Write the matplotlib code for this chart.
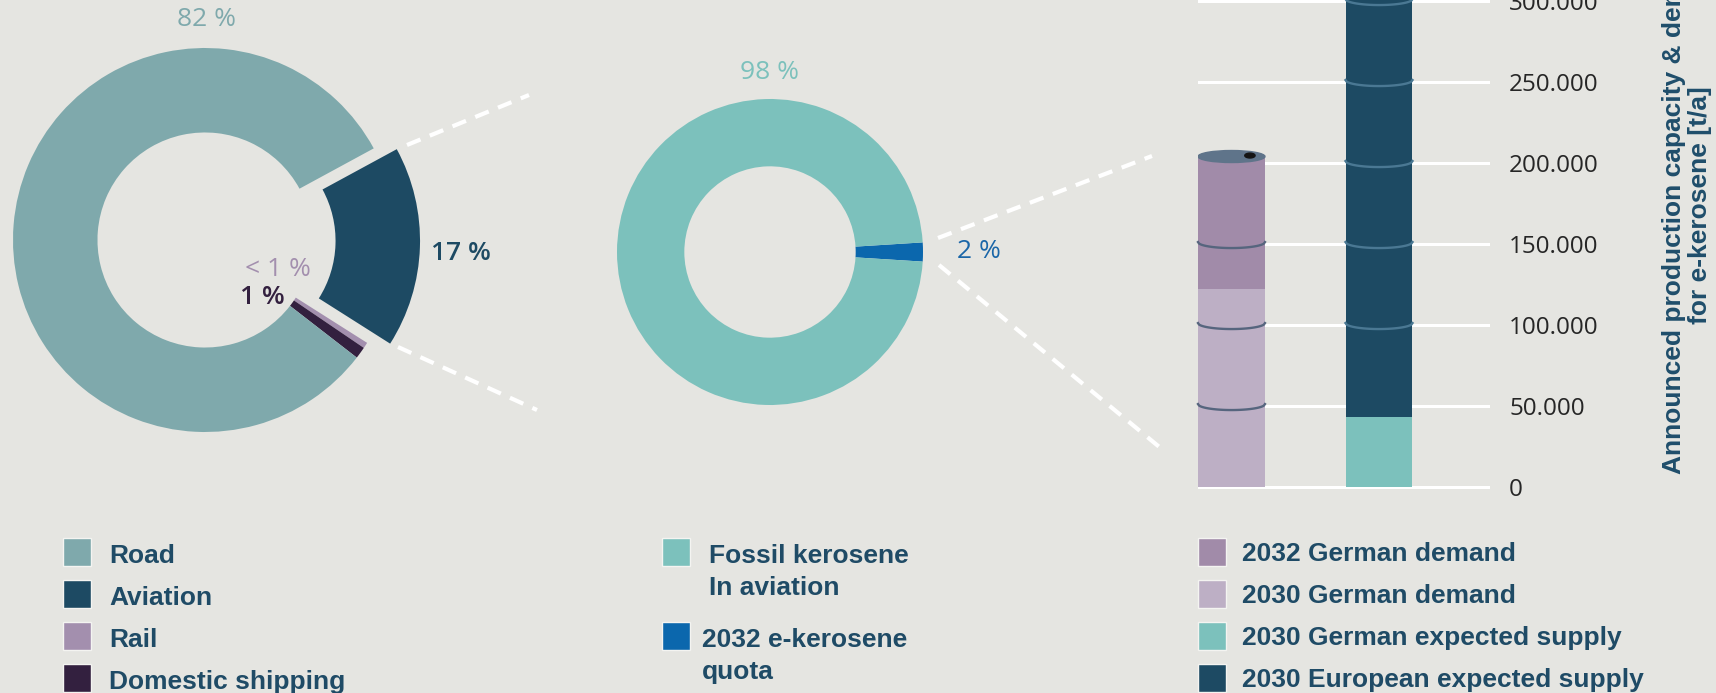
import matplotlib
matplotlib.use('Agg')
import matplotlib.pyplot as plt
from matplotlib.patches import Rectangle, Ellipse
from matplotlib.lines import Line2D
import numpy as np

# transport sector shares (left donut)
sectors = ['Road', 'Aviation', 'Rail', 'Domestic shipping']
sector_share = [82, 17, 0.5, 1]
sector_labels = ['82 %', '17 %', '< 1 %', '1 %']
sector_colors = ['#7fa9ac', '#1d4a63', '#a38fae', '#33203f']

# kerosene in aviation (middle donut)
kerosene = [['Fossil kerosene', 'In aviation'], ['2032 e-kerosene', 'quota']]
kerosene_share = [98, 2]
kerosene_labels = ['98 %', '2 %']
kerosene_colors = ['#7cc1bc', '#0b67ad']

# e-kerosene demand / supply (barrels)
bar_names = ['2032 German demand', '2030 German demand',
             '2030 German expected supply', '2030 European expected supply']
bar_colors = ['#a18ba9', '#bdafc5', '#7cc1bc', '#1d4a63']
demand_2032 = 204000
demand_2030 = 122000
supply_de_2030 = 43000
supply_eu_2030 = 340000
yticks = [0, 50000, 100000, 150000, 200000, 250000, 300000]

BG = '#e5e5e1'
TXT = '#1f4b66'
W, H = 1716, 693

fig = plt.figure(figsize=(W / 100, H / 100), dpi=100, facecolor=BG)


def donut_axes(cx, cy, r, lim=1.25):
    half = r * lim
    ax = fig.add_axes([(cx - half) / W, (H - cy - half) / H, 2 * half / W, 2 * half / H])
    ax.set_facecolor('none')
    return ax


pct_font = 'Open Sans'

# ---- left donut
ax1 = donut_axes(205, 240, 192)
order = [1, 2, 3, 0]  # aviation, rail, shipping, road (clockwise)
ax1.pie([sector_share[i] for i in order], colors=[sector_colors[i] for i in order],
        startangle=28.5, counterclock=False, explode=[0.12, 0, 0, 0],
        wedgeprops=dict(width=0.44, linewidth=0))
ax1.set_xlim(-1.25, 1.25)
ax1.set_ylim(-1.25, 1.25)
lab_pos1 = [(0.01, 1.146), (1.333, -0.068), (0.378, -0.156), (0.297, -0.297)]
lab_weight1 = ['normal', 'semibold', 'normal', 'semibold']
for lab, (x, y), c, wgt in zip(sector_labels, lab_pos1, sector_colors, lab_weight1):
    ax1.text(x, y, lab, ha='center', va='center', fontsize=19, color=c,
             family=pct_font, weight=wgt)

# ---- middle donut
ax2 = donut_axes(770, 252, 153)
ax2.pie(kerosene_share[::-1], colors=kerosene_colors[::-1], startangle=3.6,
        counterclock=False, wedgeprops=dict(width=0.44, linewidth=0))
ax2.set_xlim(-1.25, 1.25)
ax2.set_ylim(-1.25, 1.25)
ax2.text(0, 1.17, kerosene_labels[0], ha='center', va='center', fontsize=19,
         color=kerosene_colors[0], family=pct_font)
ax2.text(1.366, 0, kerosene_labels[1], ha='center', va='center', fontsize=19,
         color='#1a66a8', family=pct_font)

# ---- barrels
axb = fig.add_axes([1198 / W, (H - 495) / H, 292 / W, 495 / H])
axb.set_facecolor('none')
bw = 0.454
axb.bar(0, demand_2032, width=bw, color=bar_colors[0], zorder=2)
axb.bar(0, demand_2030, width=bw, color=bar_colors[1], zorder=3)
axb.bar(1, supply_eu_2030, width=bw, color=bar_colors[3], zorder=2)
axb.bar(1, supply_de_2030, width=bw, color=bar_colors[2], zorder=3)
axb.set_xlim(-0.227, 1.7525)
axb.set_ylim(-4938, 300617)
axb.set_yticks(yticks)
axb.set_yticklabels([f'{v:,}'.replace(',', '.') for v in yticks])
axb.yaxis.tick_right()
axb.set_xticks([])
axb.tick_params(axis='y', length=0, pad=13.7, labelsize=17.5, labelcolor='#262626')
for lbl in axb.get_yticklabels():
    lbl.set_fontfamily(pct_font)
axb.yaxis.grid(True, color='white', linewidth=2.2)
axb.set_axisbelow(True)
for s in axb.spines.values():
    s.set_visible(False)

# barrel rings
t = np.linspace(-1, 1, 60)
for xc, levels, col in [(0, yticks[1:4], '#56657e'), (1, yticks[2:], '#4a7893')]:
    for lv in levels:
        axb.plot(xc + t * bw / 2, lv + 1200 - 3700 * np.sqrt(1 - t ** 2),
                 color=col, lw=1.7, zorder=4, clip_on=False)
# barrel lid
axb.add_patch(Ellipse((0, demand_2032), bw, 7400, color='#5f748a', zorder=5))
axb.add_patch(Ellipse((0.125, demand_2032 + 600), 0.07, 3000, color='#151515', zorder=6))

# ---- overlay: dashed connectors, legends, axis title
lax = fig.add_axes([0, 0, 1, 1])
lax.set_xlim(0, W)
lax.set_ylim(H, 0)
lax.axis('off')
lax.patch.set_alpha(0)

for (x0, y0), (x1, y1) in [((407, 145), (529, 95)), ((398, 347), (537, 410)),
                           ((938, 238), (1152, 156)), ((939, 265), (1163, 450))]:
    lax.add_line(Line2D([x0, x1], [y0, y1], color='white', lw=3,
                        dashes=(3.5, 2.4)))

lax.text(1687, 205, 'Announced production capacity & demand\nfor e-kerosene [t/a]',
         rotation=90, ha='center', va='center', multialignment='center',
         fontsize=19, weight='bold', color='#1f4e6b', linespacing=1.14,
         family='Liberation Sans')

sq = 28
legend_kw = dict(fontsize=19, weight='bold', color=TXT, family='Liberation Sans',
                 va='baseline', ha='left')


def legend_square(x, top, color):
    lax.add_patch(Rectangle((x, top), sq, sq, facecolor=color, edgecolor='#f4f4f1', lw=1))


tops = [538, 580, 622, 664]
for name, col, top in zip(sectors, sector_colors, tops):
    legend_square(63, top, col)
    lax.text(109, top + 25, name, **legend_kw)

for lines, col, top, tx in zip(kerosene, kerosene_colors, [538, 622], [709, 702]):
    legend_square(662, top, col)
    for k, line in enumerate(lines):
        lax.text(tx, top + 25 + 32 * k, line, **legend_kw)

for name, col, top in zip(bar_names, bar_colors, tops):
    legend_square(1198, top, col)
    lax.text(1242, top + 23, name, **legend_kw)

fig.savefig('out.png', dpi=100, facecolor=BG)
